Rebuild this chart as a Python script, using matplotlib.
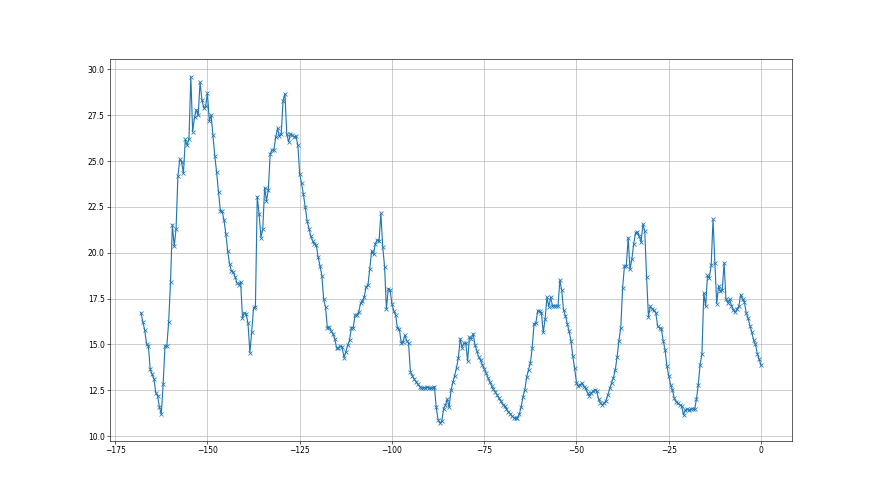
import numpy as np
import matplotlib
matplotlib.use("Agg")
import matplotlib.pyplot as plt

x_start = -168.0
x_step = 0.5

values = [
    # -168.0 .. -154.0
    16.72, 16.23, 15.78, 15.04, 14.91, 13.64, 13.37, 13.13, 12.37, 12.19,
    11.56, 11.2, 12.83, 14.91, 14.91, 16.23, 18.41, 21.52, 20.34, 21.3,
    24.18, 25.09, 24.96, 24.33, 26.18, 25.87, 26.2, 29.6, 26.6,
    # zoom 2
    27.4, 27.8, 27.5, 29.3, 28.35, 27.9, 28.0, 28.7, 27.2, 27.5,
    26.4, 25.27, 24.38, 23.3, 22.3, 22.25, 21.78, 21.0, 20.07, 19.4,
    19.0, 18.95, 18.68, 18.35, 18.26, 18.4, 16.45, 16.72, 16.67, 16.14,
    14.55,
    # zoom 3
    15.69, 17.0, 17.03, 23.06, 22.12, 20.83, 21.3, 23.55, 22.84, 23.42,
    25.38, 25.6, 25.6, 26.29, 26.78, 26.36, 26.5, 28.3, 28.68, 26.47,
    26.05, 26.47, 26.41, 26.32, 26.36, 25.87, 24.28, 23.79, 23.19, 22.5,
    # zoom 4
    21.74, 21.32, 20.92, 20.65, 20.47, 20.42, 19.75, 19.29, 18.75, 17.45,
    17.03, 15.89, 15.94, 15.72, 15.58, 15.31, 14.8, 14.8, 14.9, 14.86,
    14.28, 14.58, 14.95, 15.22, 15.91, 15.91, 16.58, 16.63, 16.76,
    # zoom 5
    17.25, 17.37, 17.61, 18.15, 18.22, 19.13, 20.09, 19.91, 20.5, 20.69,
    20.63, 22.14, 20.33, 19.24, 16.92, 18.04, 17.97, 17.19, 16.83, 16.59,
    15.87, 15.83, 15.1, 15.14, 15.5, 15.2, 15.07, 13.5,
    # zoom 6
    13.3, 13.11, 12.97, 12.84, 12.7, 12.6, 12.64, 12.64, 12.66, 12.64,
    12.6, 12.64, 12.7, 11.56, 10.9, 10.7, 10.81, 11.5, 11.69, 12.02,
    11.56, 12.5, 12.93, 13.3, 13.73, 14.28, 15.31, 14.83, 15.07, 15.07,
    14.1, 15.4,
    # zoom 7
    15.31, 15.58, 14.98, 14.64, 14.31, 14.13, 13.9, 13.68, 13.44, 13.19,
    12.95, 12.74, 12.54, 12.41, 12.23, 12.05, 11.9, 11.72, 11.65, 11.5,
    11.32, 11.23, 11.09, 11.0, 10.96, 11.0, 11.18, 11.6, 12.14,
    # zoom 8
    12.52, 13.21, 13.61, 13.98, 14.8, 16.13, 16.17, 16.84, 16.8, 16.71,
    15.65, 16.38, 17.57, 17.06, 17.57, 17.1, 17.1, 17.1, 17.1, 18.5,
    17.95, 16.86, 16.57, 16.13, 15.71, 15.21, 14.37, 13.7, 12.91, 12.73,
    # zoom 9
    12.8, 12.9, 12.7, 12.6, 12.35, 12.2, 12.35, 12.44, 12.53, 12.44,
    12.02, 11.8, 11.7, 11.8, 11.92, 12.25, 12.6, 12.9, 13.16, 13.6,
    14.3, 15.2, 15.9, 18.08, 19.27, 19.27, 20.82, 19.09, 19.64, 20.46,
    # zoom 10
    21.09, 21.13, 20.91, 20.58, 21.55, 21.19, 18.67, 16.5, 17.08, 16.93,
    16.85, 16.72, 15.99, 15.9, 15.86, 15.2, 14.71, 13.83, 13.28, 12.79,
    12.52, 12.06, 11.88, 11.79, 11.7, 11.64, 11.15, 11.42, 11.46, 11.42,
    # gap
    11.45, 11.5, 11.45, 12.0, 12.8, 13.9, 14.5,
    # zoom 11
    17.81, 17.08, 18.76, 18.63, 19.31, 21.82, 19.45, 17.23, 18.18, 17.9,
    17.99, 19.45, 17.5, 17.26, 17.45, 17.12, 16.9,
    # zoom 12
    16.75, 16.93, 17.08, 17.72, 17.45, 17.32, 16.71, 16.43, 16.03, 15.66,
    15.24, 15.0, 14.5, 14.19, 13.86,
]

x = x_start + x_step * np.arange(len(values))

fig, ax = plt.subplots(figsize=(16, 9), dpi=55)
ax.plot(x, values, marker='x', color='C0')
ax.grid(True)
fig.savefig("out.png", dpi=55)
